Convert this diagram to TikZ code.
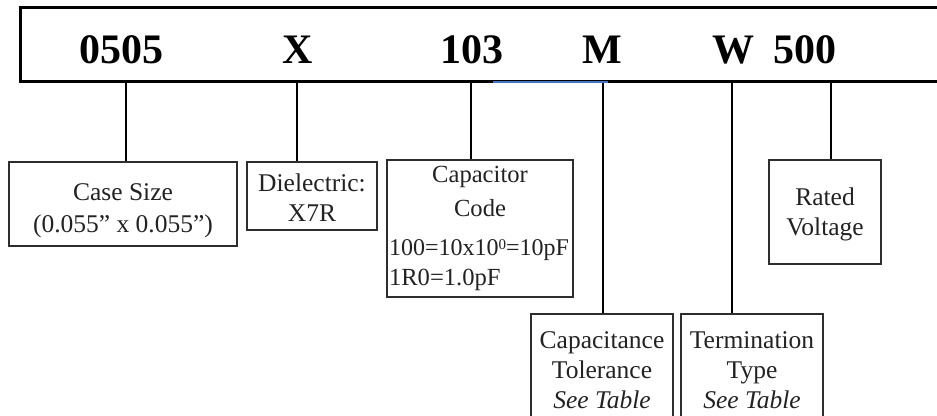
\documentclass[tikz,border=0pt]{standalone}
\usepackage{fontspec}
\setmainfont{Liberation Serif}
\usetikzlibrary{positioning}
\definecolor{ink}{HTML}{222222}
\definecolor{rim}{HTML}{2E2E2E}
\definecolor{accent}{HTML}{4472C4}
\newcommand{\topgap}[1]{\rule{0pt}{#1}}

\begin{document}
\begin{tikzpicture}[x=0.5pt,y=-0.5pt]
    \tikzset{
      partbar/.style={draw=black,line width=1.5pt,minimum width=470.5pt,minimum height=37pt,inner sep=0pt},
      partcode/.style={anchor=base,inner sep=0pt,font=\fontsize{21}{24}\selectfont\bfseries},
      infobox/.style={draw=rim,line width=0.6pt,align=center,inner sep=0pt,text=ink,font=\fontsize{12.75}{15}\selectfont},
      leader/.style={draw=black,line width=1pt}
    }
    \useasboundingbox (0,0) rectangle (937,416);
    \clip (0,0) rectangle (937,416);
    % part number strip
    \node[partbar,anchor=north west] (bar) at (19,6) {};
    \node[partcode] (sizecode) at (121,64) {0505};
    \node[partcode] (dielcode) at (298,64) {X};
    \node[partcode] (capcode) at (472,64) {103};
    \node[partcode] (tolcode) at (602,64) {M};
    \node[partcode] (termcode) at (733,64) {W};
    \node[partcode] (voltcode) at (805,64) {500};
    \draw[accent,line width=1pt] (493,82.5) -- (608,82.5);
    % description boxes
    \node[infobox,minimum width=114pt,minimum height=42pt] (sizebox) at (123,204)
      {\topgap{15.5pt}Case Size\\[1pt](0.055” x 0.055”)};
    \node[infobox,minimum width=65pt,minimum height=34pt] (dielbox) at (312,196)
      {\topgap{10.5pt}Dielectric:\\X7R};
    \node[infobox,minimum width=93pt,minimum height=68.5pt,text width=91pt,align=left,
          font=\fontsize{12.3}{15}\selectfont] (capbox) at (480,228.5)
      {\centerline{Capacitor}\vskip2pt\centerline{Code}\vskip4.5pt
       {\fontsize{12}{15}\selectfont 100=10x10\raisebox{0.55ex}{\fontsize{7.5}{8}\selectfont 0}=10pF}\\1R0=1.0pF};
    \node[infobox,minimum width=71pt,minimum height=56pt] (tolbox) at (602,370)
      {Capacitance\\Tolerance\\\textit{See Table}};
    \node[infobox,minimum width=71pt,minimum height=56pt] (termbox) at (752,370)
      {Termination\\Type\\\textit{See Table}};
    \node[infobox,minimum width=56pt,minimum height=52pt] (voltbox) at (825,212)
      {\topgap{11.5pt}Rated\\Voltage};
    % leaders
    \coordinate (sizetap) at (126,80);
    \coordinate (dieltap) at (297,80);
    \coordinate (captap) at (471,80);
    \coordinate (toltap) at (603,80);
    \coordinate (termtap) at (732,80);
    \coordinate (volttap) at (831,80);
    \draw[leader] (sizetap |- bar.south) -- (sizetap |- sizebox.north);
    \draw[leader] (dieltap |- bar.south) -- (dieltap |- dielbox.north);
    \draw[leader] (captap |- bar.south) -- (captap |- capbox.north);
    \draw[leader] (toltap |- bar.south) -- (toltap |- tolbox.north);
    \draw[leader] (termtap |- bar.south) -- (termtap |- termbox.north);
    \draw[leader] (volttap |- bar.south) -- (volttap |- voltbox.north);
\end{tikzpicture}
\end{document}
